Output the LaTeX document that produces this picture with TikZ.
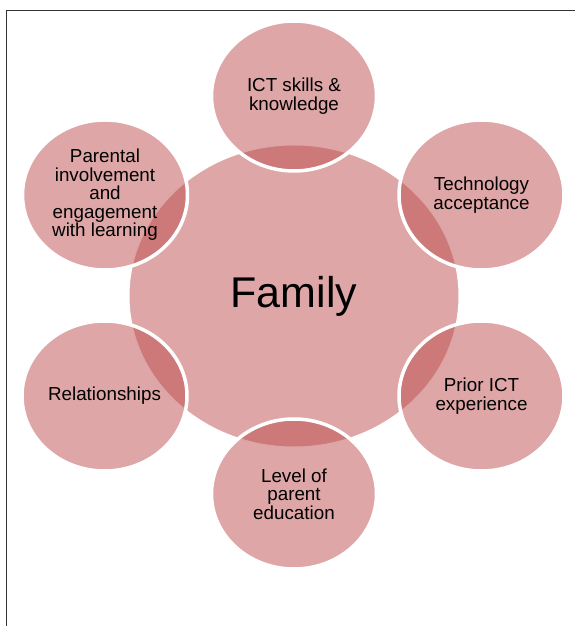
\documentclass[tikz,border=0pt]{standalone}
\usepackage{fontspec}
\setmainfont{Liberation Sans}
\usetikzlibrary{shapes.geometric}
\definecolor{rose}{RGB}{189,77,77}

\tikzset{
  frame/.style={draw=black!80,line width=1.2pt},
  hub/.style={ellipse,minimum width=330pt,minimum height=302pt,inner sep=0pt,
    fill=rose,fill opacity=0.5,draw=white,draw opacity=1,text opacity=1,
    line width=1pt,font=\fontsize{43}{46}\selectfont},
  bubble/.style={ellipse,minimum width=165pt,minimum height=150pt,inner sep=0pt,
    fill=rose,fill opacity=0.5,draw=white,draw opacity=1,text opacity=1,
    line width=3.5pt,align=center,font=\fontsize{18.8}{18.5}\selectfont}
}

\begin{document}
\begin{tikzpicture}[x=1pt,y=1pt]
 \useasboundingbox (0,0) rectangle (575,626);
 \draw[frame] (6.7,0) -- (6.7,615.7) -- (575,615.7);
 % centre
 \node[hub] (family) at (294,330) {Family};
 % surrounding factors
 \node[bubble] (skills) at (294,530) {ICT skills \&\\knowledge};
 \node[bubble] (accept) at (481.5,431) {Technology\\acceptance};
 \node[bubble] (prior) at (481.5,230) {Prior ICT\\experience};
 \node[bubble] (educ) at (294,132) {Level of\\parent\\education};
 \node[bubble] (relat) at (104.5,230) {Relationships};
 \node[bubble] (parent) at (105,431) {Parental\\involvement\\and\\engagement\\with learning};
\end{tikzpicture}
\end{document}
